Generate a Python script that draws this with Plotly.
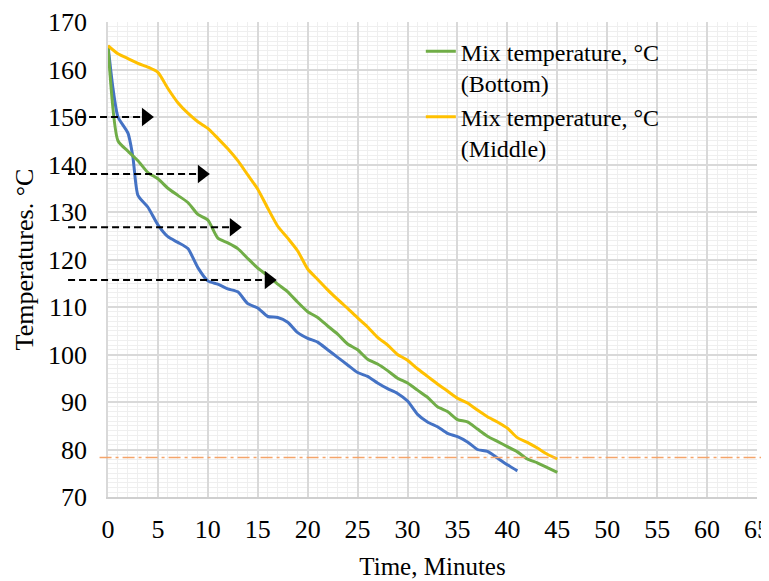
import plotly.graph_objects as go

# ---- data ----
time_bottom = list(range(0, 46))
temp_bottom = [165, 145.0, 142.8, 140.8, 138.3, 137.0, 135.0, 133.5, 132.0, 129.5,
               128.3, 124.5, 123.5, 122.3, 120.2, 118.2, 116.6, 114.8, 113.2, 111.0,
               109.0, 107.8, 106.0, 104.3, 102.2, 101.0, 99.0, 98.0, 96.6, 95.0,
               94.0, 92.5, 91.0, 89.0, 88.0, 86.3, 85.8, 84.3, 82.8, 81.7,
               80.6, 79.5, 78.0, 77.2, 76.2, 75.2]

time_middle = list(range(0, 46))
temp_middle = [165, 163.3, 162.3, 161.3, 160.5, 159.4, 156.0, 153.0, 150.8, 149.0,
               147.6, 145.5, 143.3, 140.8, 137.8, 134.8, 130.8, 127.0, 124.5, 121.8,
               118.0, 115.8, 113.6, 111.6, 109.7, 107.7, 105.8, 103.6, 102.0, 100.0,
               98.8, 97.0, 95.4, 93.8, 92.3, 90.8, 89.8, 88.3, 86.9, 85.8,
               84.5, 82.5, 81.5, 80.3, 79.0, 78.0]

time_top = [0, 0.5, 1, 2, 2.5, 3, 4, 5, 6, 7, 8, 9, 10, 11, 12, 13, 14, 15, 16, 17, 18, 19,
            20, 21, 22, 23, 24, 25, 26, 27, 28, 29, 30, 31, 32, 33, 34, 35, 36,
            37, 38, 39, 40, 41]
temp_top = [165, 156.0, 150.0, 146.6, 141.5, 133.5, 131.0, 127.3, 124.8, 123.6, 122.3, 118.3,
            115.5, 114.8, 113.8, 113.2, 110.7, 109.8, 108.0, 107.8, 106.8, 104.6,
            103.4, 102.6, 101.0, 99.4, 97.8, 96.2, 95.4, 94.0, 92.8, 91.8,
            90.2, 87.4, 85.8, 84.8, 83.4, 82.7, 81.6, 80.0, 79.6, 78.2, 76.8, 75.5]

reference_level = 78.3

arrow_levels = [150, 138, 126.8, 115.7]
arrow_tips = [4.6, 10.2, 13.4, 16.9]
arrow_starts = [-3.0, -4.0, -4.0, -4.0]

x_ticks = list(range(0, 70, 5))
y_ticks = list(range(70, 180, 10))

FONT = "Liberation Serif, Times New Roman, serif"
X_MIN, X_MAX = 0, 65

fig = go.Figure()

fig.add_trace(go.Scatter(x=time_top, y=temp_top, mode="lines", showlegend=False,
                         line=dict(color="#4472C4", width=3, shape="spline", smoothing=0.6),
                         hoverinfo="skip"))
fig.add_trace(go.Scatter(x=time_bottom, y=temp_bottom, mode="lines",
                         name="Mix temperature, °C<br>(Bottom)",
                         line=dict(color="#70AD47", width=3, shape="spline", smoothing=0.6)))
fig.add_trace(go.Scatter(x=time_middle, y=temp_middle, mode="lines",
                         name="Mix temperature, °C<br>(Middle)",
                         line=dict(color="#FFC000", width=3, shape="spline", smoothing=0.6)))

# reference level (dash-dot)
fig.add_shape(type="line", xref="paper", yref="y", x0=-0.013, x1=1.035,
              y0=reference_level, y1=reference_level,
              line=dict(color="#F4A46A", width=1.5, dash="12px,4px,3px,4px"), layer="above")

# dashed arrows
span = X_MAX - X_MIN
for lvl, tip, st in zip(arrow_levels, arrow_tips, arrow_starts):
    fig.add_shape(type="line", xref="paper", yref="y",
                  x0=(st - X_MIN) / span, x1=(tip - 1.1 - X_MIN) / span,
                  y0=lvl, y1=lvl,
                  line=dict(color="black", width=2, dash="7px,4px"), layer="above")

fig.add_trace(go.Scatter(x=[t - 0.8 for t in arrow_tips], y=arrow_levels, mode="markers",
                         marker=dict(symbol="triangle-right", size=16, color="black"),
                         cliponaxis=False, showlegend=False, hoverinfo="skip"))

# the page body has an 8px default margin, so the margins are offset by 8px
fig.update_layout(
    width=769, height=581,
    margin=dict(l=100, r=20, t=14, b=92, autoexpand=False),
    paper_bgcolor="white", plot_bgcolor="white",
    font=dict(family=FONT, size=25, color="black"),
    legend=dict(x=0.482, y=0.985, xanchor="left", yanchor="top",
                bgcolor="rgba(0,0,0,0)", font=dict(size=24, family=FONT),
                valign="top", tracegroupgap=0),
    showlegend=True,
)

fig.update_xaxes(
    range=[X_MIN, X_MAX], tickmode="array", tickvals=x_ticks, automargin=False,
    showgrid=True, gridcolor="#d9d9d9", gridwidth=1.5,
    minor=dict(dtick=1, showgrid=True, gridcolor="#efefef", gridwidth=1),
    showline=True, linecolor="#cfcfcf", linewidth=2,
    zeroline=False, ticks="", ticklabelstandoff=8,
    tickfont=dict(size=26, family=FONT),
    title=dict(text="Time, Minutes", font=dict(size=25, family=FONT), standoff=14),
)
fig.update_yaxes(
    range=[70, 170], tickmode="array", tickvals=y_ticks, automargin=False,
    showgrid=True, gridcolor="#d9d9d9", gridwidth=1.5,
    minor=dict(dtick=1, showgrid=True, gridcolor="#efefef", gridwidth=1),
    showline=True, linecolor="#d9d9d9", linewidth=1.5,
    zeroline=False, ticks="", ticklabelstandoff=14,
    tickfont=dict(size=26, family=FONT),
    title=dict(text="Temperatures. °C", font=dict(size=26, family=FONT), standoff=7),
)

fig.write_html("out.html")
